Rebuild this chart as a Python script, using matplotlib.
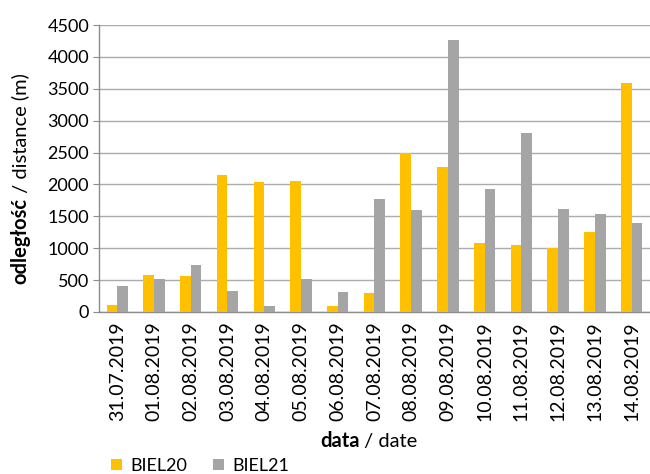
import numpy as np
import matplotlib
matplotlib.use("Agg")
import matplotlib.pyplot as plt
from matplotlib.patches import Patch

plt.rcParams['font.family'] = ['Lato', 'DejaVu Sans']

dates = ['31.07.2019', '01.08.2019', '02.08.2019', '03.08.2019', '04.08.2019',
         '05.08.2019', '06.08.2019', '07.08.2019', '08.08.2019', '09.08.2019',
         '10.08.2019', '11.08.2019', '12.08.2019', '13.08.2019', '14.08.2019']
biel20 = [115, 580, 565, 2150, 2040, 2055, 100, 300, 2500, 2280, 1085, 1055, 1010, 1260, 3595]
biel21 = [400, 510, 740, 330, 90, 515, 315, 1770, 1605, 4260, 1935, 2815, 1615, 1530, 1400]

YELLOW = '#FFC000'
GREY = '#A5A5A5'
FS = 13
FS_TITLE = 14.5

fig = plt.figure(figsize=(6.5, 4.74), dpi=100)
ax = fig.add_axes([0.152, 0.342, 0.848, 0.605])

x = np.arange(len(dates))
w = 0.29
ax.bar(x - w / 2, biel20, w, color=YELLOW, zorder=3)
ax.bar(x + w / 2, biel21, w, color=GREY, zorder=3)

ax.set_xlim(-0.5, len(dates) - 0.5)
ax.set_ylim(0, 4500)
ax.set_yticks(range(0, 4501, 500))
ax.set_xticks(x)
ax.set_xticklabels(dates, rotation=90, fontsize=14)
ax.tick_params(axis='x', length=0, pad=7)
ax.tick_params(axis='y', length=4, color='#8C8C8C', labelsize=FS, pad=3)
ax.yaxis.grid(True, color='#ABABAB', lw=1, zorder=0)
for s in ('top', 'right'):
    ax.spines[s].set_visible(False)
for s in ('left', 'bottom'):
    ax.spines[s].set_color('#8C8C8C')
    ax.spines[s].set_linewidth(1)

# axis titles: bold Polish word followed by regular English part
fig.canvas.draw()
r = fig.canvas.get_renderer()

def split_label(xf, yf, bold, rest, rotation):
    t1 = fig.text(xf, yf, bold, fontsize=FS_TITLE, fontweight='bold', rotation=rotation,
                  ha='left' if rotation == 0 else 'center',
                  va='center' if rotation == 0 else 'bottom')
    bb = t1.get_window_extent(r).transformed(fig.transFigure.inverted())
    if rotation == 0:
        fig.text(bb.x1, yf, ' / ' + rest, fontsize=FS_TITLE, ha='left', va='center')
    else:
        fig.text(xf, bb.y1, ' / ' + rest, fontsize=FS_TITLE, rotation=90, ha='center', va='bottom')
    return t1

split_label(320 / 650, 1 - 441 / 474, 'data', 'date', 0)
split_label(0.031, 1 - 284 / 474, 'odległość', 'distance (m)', 90)

handles = [Patch(facecolor=YELLOW, label='BIEL20'), Patch(facecolor=GREY, label='BIEL21')]
fig.legend(handles=handles, loc='center left', bbox_to_anchor=(111 / 650, 1 - 466 / 474),
           ncol=2, frameon=False, fontsize=FS, handlelength=0.6, handleheight=0.6,
           handletextpad=0.5, columnspacing=1.4, borderpad=0, borderaxespad=0)

fig.savefig('out.png', dpi=100)
